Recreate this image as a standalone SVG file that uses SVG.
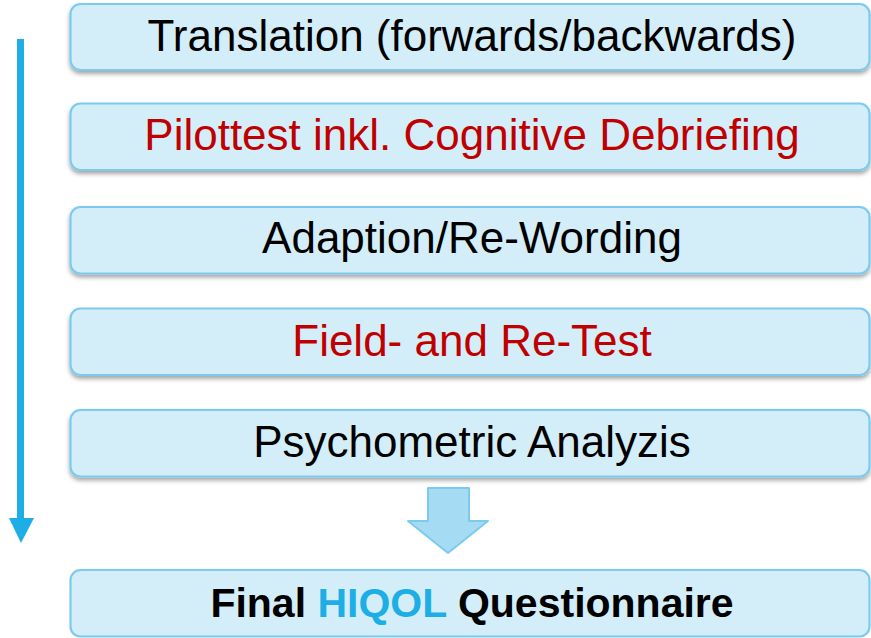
<svg xmlns="http://www.w3.org/2000/svg" width="871" height="638" viewBox="0 0 871 638">
<style>
.box{fill:#d3eef9;stroke:#7ccbee;stroke-width:2.2}
.t{font-family:"Liberation Sans",Arial,sans-serif;font-size:44px;text-anchor:middle;fill:#000}
.red{fill:#c00000}
.b{font-weight:bold;font-size:41px}
.blue{fill:#1eaee6}
</style>
<defs>
<filter id="sh" x="-5%" y="-20%" width="110%" height="150%">
<feDropShadow dx="0" dy="3" stdDeviation="2.2" flood-color="#000" flood-opacity="0.35"/>
</filter>
</defs>
<g id="connectors">
<rect x="17" y="39" width="7" height="481" fill="#1eaee6"/>
<polygon points="9,518 34,518 21,543" fill="#1eaee6"/>
<polygon points="428,488 469,488 469,521 488,521 448,553 408,521 428,521" fill="#a6dcf3" stroke="#7ccbee" stroke-width="2" stroke-linejoin="round"/>
</g>
<g id="n1"><rect class="box" x="70.5" y="4" width="799" height="66" rx="10" filter="url(#sh)"/><text class="t" x="472" y="51">Translation (forwards/backwards)</text></g>
<g id="n2"><rect class="box" x="70.5" y="103.5" width="799" height="66.5" rx="10" filter="url(#sh)"/><text class="t red" x="472" y="150">Pilottest inkl. Cognitive Debriefing</text></g>
<g id="n3"><rect class="box" x="70.5" y="207" width="799" height="66.5" rx="10" filter="url(#sh)"/><text class="t" x="472" y="253">Adaption/Re-Wording</text></g>
<g id="n4"><rect class="box" x="70.5" y="308.5" width="799" height="66.5" rx="10" filter="url(#sh)"/><text class="t red" x="472" y="356">Field- and Re-Test</text></g>
<g id="n5"><rect class="box" x="70.5" y="410" width="799" height="66.5" rx="10" filter="url(#sh)"/><text class="t" x="472" y="457">Psychometric Analyzis</text></g>
<g id="n6"><rect class="box" x="70.5" y="570" width="799" height="66.5" rx="10"/><text class="t b" x="472" y="617">Final <tspan class="blue">HIQOL</tspan> Questionnaire</text></g>
</svg>
